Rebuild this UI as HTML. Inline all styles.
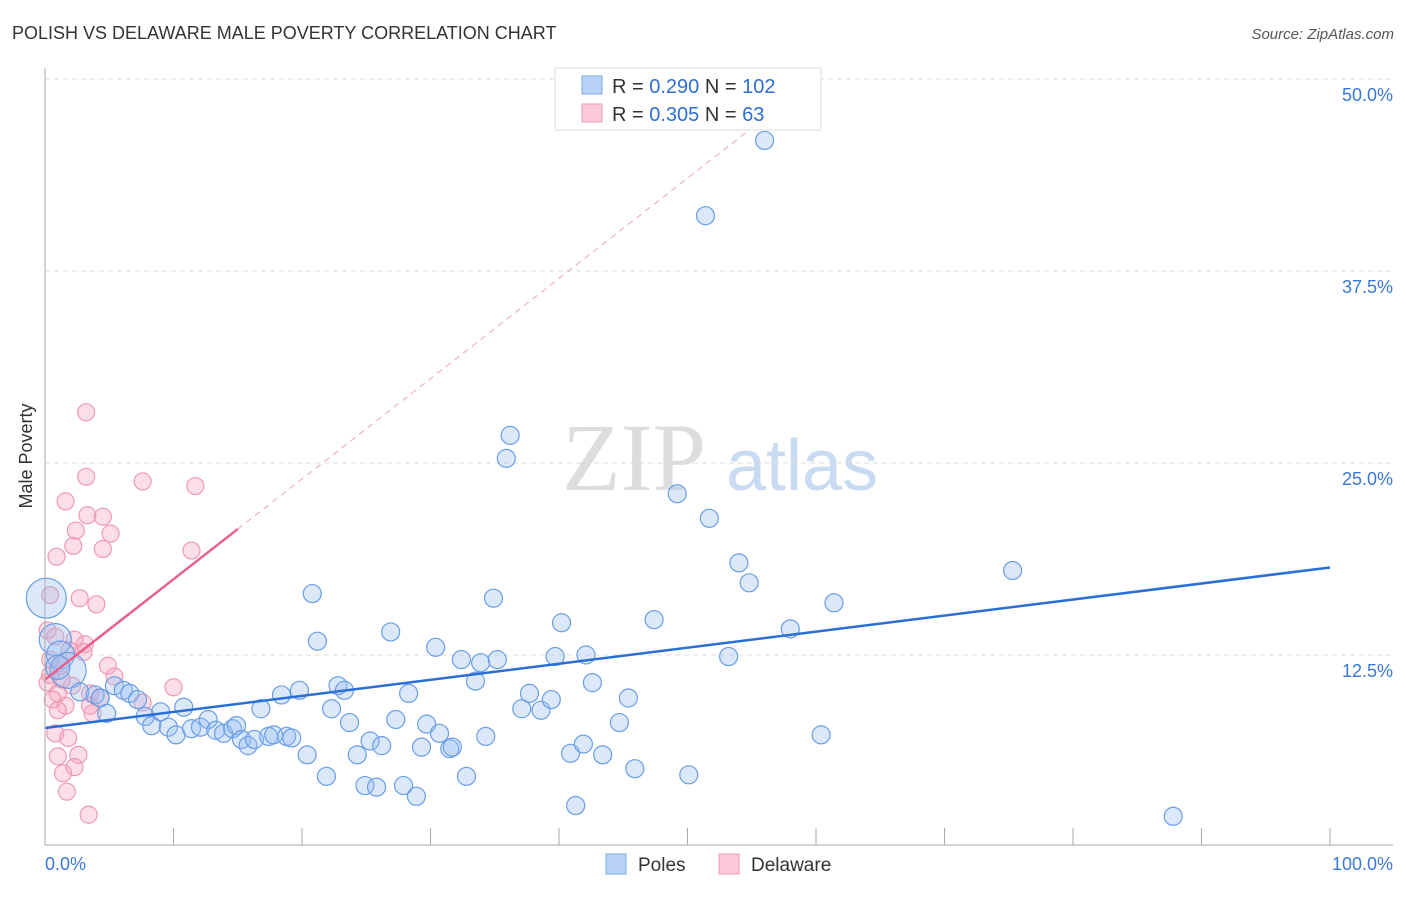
<!DOCTYPE html>
<html><head><meta charset="utf-8"><style>
body{margin:0;background:#fff;font-family:"Liberation Sans",sans-serif}
</style></head><body>
<svg id="c" width="1406" height="892" xmlns="http://www.w3.org/2000/svg">
<text x="12" y="39" font-size="18" fill="#333">POLISH VS DELAWARE MALE POVERTY CORRELATION CHART</text>
<text x="1394" y="39" font-size="15" fill="#555" font-style="italic" text-anchor="end">Source: ZipAtlas.com</text>
<text x="32" y="456" font-size="18" fill="#333" text-anchor="middle" transform="rotate(-90 32 456)">Male Poverty</text>
<g>
<text x="634" y="490" font-size="96" fill="#ddd" font-family="Liberation Serif,serif" text-anchor="middle">ZIP</text>
<text x="802" y="490" font-size="72" fill="#c9dbf2" text-anchor="middle">atlas</text></g>
<g id="grid"></g><g id="pts"></g><g id="lines"></g><g id="axes"></g>
<g>
<rect x="555" y="68" width="266" height="62" fill="#fff" stroke="#ddd"/>
<rect x="582" y="76" width="20" height="18" fill="#b8d3f5" stroke="#7aa8e6"/>
<rect x="582" y="104" width="20" height="18" fill="#fbc9d7" stroke="#ef9ab4"/>
<text x="612" y="93" font-size="20" fill="#333">R = <tspan fill="#2f6fd6">0.290</tspan>   N = <tspan fill="#2f6fd6">102</tspan></text>
<text x="612" y="121" font-size="20" fill="#333">R = <tspan fill="#2f6fd6">0.305</tspan>   N = <tspan fill="#2f6fd6">  63</tspan></text>
</g>
<g>
<rect x="606" y="854" width="20" height="20" fill="#b8d3f5" stroke="#7aa8e6"/>
<text x="638" y="871" font-size="19" fill="#333">Poles</text>
<rect x="719" y="854" width="20" height="20" fill="#fbc9d7" stroke="#ef9ab4"/>
<text x="751" y="871" font-size="19" fill="#333">Delaware</text>
</g>
</svg>
<script>
const yTicks=[12.5,25,37.5,50];
const yTickLabels=["12.5%","25.0%","37.5%","50.0%"];
const xTickLabels=["0.0%","100.0%"];
const polesX=[0.1,0.8,1.2,1.8,1.0,2.7,3.9,4.3,4.8,5.4,6.1,6.6,7.2,7.8,8.3,9.0,9.6,10.2,10.8,11.4,12.1,12.7,13.3,13.9,14.6,14.9,15.3,15.8,16.3,16.8,17.4,17.8,18.4,18.8,19.2,19.8,20.4,20.8,21.2,21.9,22.3,22.8,23.3,23.7,24.3,24.9,25.3,25.8,26.2,26.9,27.3,27.9,28.3,28.9,29.3,29.7,30.4,30.7,31.5,31.7,32.4,32.8,33.5,33.9,34.3,34.9,35.2,35.9,36.2,37.1,37.7,38.6,39.4,39.7,40.2,40.9,41.3,41.9,42.1,42.6,43.4,44.7,45.4,45.9,47.4,49.2,50.1,51.4,51.7,53.2,54.0,54.8,56.0,58.0,60.4,61.4,75.3,87.8];
const polesY=[16.2,13.5,12.5,11.5,11.7,10.1,9.9,9.7,8.7,10.5,10.2,10.0,9.6,8.5,7.9,8.8,7.8,7.3,9.1,7.7,7.8,8.3,7.6,7.4,7.7,7.9,7.0,6.6,7.0,9.0,7.2,7.3,9.9,7.2,7.1,10.2,6.0,16.5,13.4,4.6,9.0,10.5,10.2,8.1,6.0,4.0,6.9,3.9,6.6,14.0,8.3,4.0,10.0,3.3,6.5,8.0,13.0,7.4,6.4,6.5,12.2,4.6,10.8,12.0,7.2,16.2,12.2,25.3,26.8,9.0,10.0,8.9,9.6,12.4,14.6,6.1,2.7,6.7,12.5,10.7,6.0,8.1,9.7,5.1,14.8,23.0,4.7,41.1,21.4,12.4,18.5,17.2,46.0,14.2,7.3,15.9,18.0,2.0];
const polesR=[20,16,14,18,12];
const delX=[3.2,3.2,7.6,11.7,1.6,3.3,4.5,2.4,5.1,2.2,4.5,0.9,11.4,0.4,2.7,4.0,0.2,0.8,2.3,3.1,1.9,3.0,0.4,1.2,4.9,5.4,0.4,0.2,2.1,1.0,3.5,10.0,0.6,1.6,1.0,7.6,3.7,3.5,0.8,1.8,1.0,2.6,2.3,1.4,1.7,3.4,4.3,1.3];
const delY=[28.3,24.1,23.8,23.5,22.5,21.6,21.5,20.6,20.4,19.6,19.4,18.9,19.3,16.4,16.2,15.8,14.1,13.7,13.5,13.2,12.8,12.7,12.2,11.8,11.8,11.1,11.2,10.7,10.5,10.0,10.0,10.4,9.6,9.2,8.9,9.4,8.7,9.2,7.4,7.1,5.9,6.0,5.2,4.8,3.6,2.1,9.7,10.9];
const polesTrend=[[0,7.75],[100,18.2]];
const delTrend=[[0,10.9],[15,20.7]];
const delTrendExt=[[15,20.7],[55.6,47.2]];
const X=v=>45+v*12.85, Y=v=>847-v*15.36;
const NS='http://www.w3.org/2000/svg';
function mk(p,t,a){const e=document.createElementNS(NS,t);for(const k in a)e.setAttribute(k,a[k]);document.getElementById(p).appendChild(e);return e;}
yTicks.forEach((t,i)=>{
 const g=mk('grid','line',{x1:45,x2:1393,y1:Y(t),y2:Y(t),stroke:'#ddd','stroke-dasharray':'5,4'});
 
 
 const l=mk('axes','text',{x:1393,y:Y(t)+22,'font-size':18,fill:'#3a78d6','text-anchor':'end'});
 l.textContent=yTickLabels[i];
 
 
});
let ax=mk('axes','line',{x1:45,x2:45,y1:68,y2:845,stroke:'#aaa'});


ax=mk('axes','line',{x1:45,x2:1393,y1:845,y2:845,stroke:'#aaa'});


for(let i=1;i<=10;i++){const t=mk('axes','line',{x1:X(i*10),x2:X(i*10),y1:828,y2:845,stroke:'#aaa'});
 
 }
[[0,'start',45],[1,'end',1393]].forEach(([i,a,x])=>{const l=mk('axes','text',{x:x,y:870,'font-size':18,fill:'#3a78d6','text-anchor':a});l.textContent=xTickLabels[i];
 
 });
delX.forEach((x,i)=>{const c=mk('pts','circle',{cx:X(x),cy:Y(delY[i]),r:8.5,fill:'rgba(246,160,185,0.35)',stroke:'#ee9ab3','stroke-width':1.2});
 
 });
polesX.forEach((x,i)=>{const c=mk('pts','circle',{cx:X(x),cy:Y(polesY[i]),r:polesR[i]||9,fill:'rgba(150,190,240,0.35)',stroke:'#6a9ee6','stroke-width':1.2});
 
 });
let tl=mk('lines','line',{x1:X(polesTrend[0][0]),y1:Y(polesTrend[0][1]),x2:X(polesTrend[1][0]),y2:Y(polesTrend[1][1]),stroke:'#2a6fd6','stroke-width':2.5});


tl=mk('lines','line',{x1:X(delTrend[0][0]),y1:Y(delTrend[0][1]),x2:X(delTrend[1][0]),y2:Y(delTrend[1][1]),stroke:'#e8608c','stroke-width':2.5});


tl=mk('lines','line',{x1:X(delTrendExt[0][0]),y1:Y(delTrendExt[0][1]),x2:X(delTrendExt[1][0]),y2:Y(delTrendExt[1][1]),stroke:'#f0a0b8','stroke-width':1,'stroke-dasharray':'6,5'});


</script>
</body></html>
